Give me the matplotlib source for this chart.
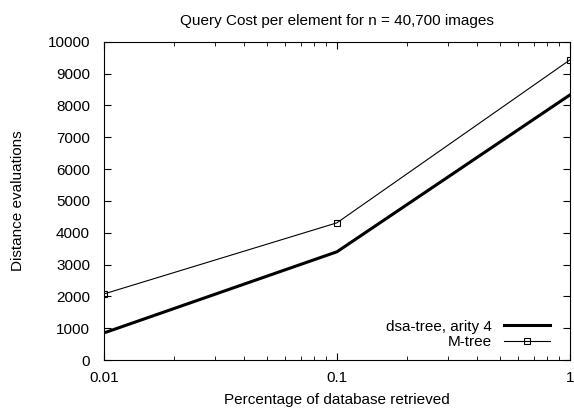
import matplotlib.pyplot as plt
import numpy as np

plt.rcParams['font.family'] = ['Liberation Sans', 'DejaVu Sans']

frac = [0.01, 0.1, 1]
dsa = [850, 3400, 8330]
mtree = [2075, 4310, 9430]

fig = plt.figure(figsize=(5.74, 4.15), dpi=100)
ax = fig.add_axes([0.181, 0.1325, 0.812, 0.767])

ax.plot(frac, dsa, color='black', lw=2.2, label='dsa-tree, arity 4')
ax.plot(frac, mtree, color='black', lw=0.8, marker='s', ms=4,
        mfc='none', mew=0.8, label='M-tree')

ax.set_xscale('log')
ax.set_xlim(0.01, 1)
ax.set_ylim(0, 10000)
ax.set_yticks(np.arange(0, 10001, 1000))
ax.set_xticks([0.01, 0.1, 1])
ax.set_xticklabels(['0.01', '0.1', '1'])
ax.tick_params(direction='in', which='both', top=True, right=True, labelsize=11)
ax.tick_params(which='major', length=5)
ax.tick_params(which='minor', length=3)
ax.tick_params(axis='x', pad=8)
ax.tick_params(axis='y', pad=10)

ax.set_title('Query Cost per element for n = 40,700 images', fontsize=11, pad=12)
ax.set_xlabel('Percentage of database retrieved', fontsize=11, labelpad=6)
ax.set_ylabel('Distance evaluations', fontsize=11, labelpad=16)

leg = ax.legend(loc='lower right', bbox_to_anchor=(0.98, 0.0), frameon=False,
                fontsize=11, markerfirst=False, handlelength=3,
                borderaxespad=0.3, labelspacing=0.1)
for t in leg.get_texts():
    t.set_ha('right')

fig.savefig('out.png')
